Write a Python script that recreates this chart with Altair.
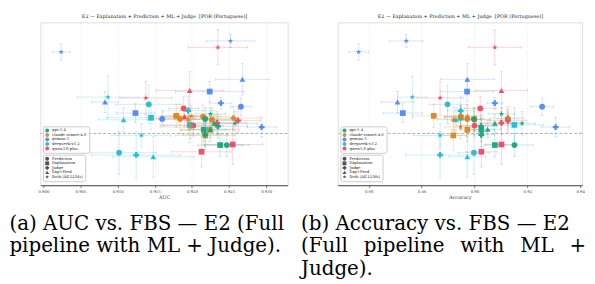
import altair as alt
import pandas as pd

SERIF = "DejaVu Serif"

model_names = ["gpt-5.4", "claude-sonnet-4.6", "gemini-3", "deepseek-v3.2", "qwen3.6-plus"]
model_colors = ["#12A37F", "#D9821A", "#4A86F2", "#1DB8CF", "#F0435F"]
type_names = ["Prediction", "Explanation", "Judge", "Exp+Pred", "Both (All LLMs)"]
STAR = ("M0,-1L0.2245,-0.309L0.951,-0.309L0.363,0.118L0.588,0.809L0,0.382"
        "L-0.588,0.809L-0.363,0.118L-0.951,-0.309L-0.2245,-0.309Z")
type_shapes = ["circle", "square", "cross", "triangle-up", STAR]

pt_model = (["gemini-3"] * 10 + ["qwen3.6-plus"] * 10 + ["deepseek-v3.2"] * 10
            + ["claude-sonnet-4.6"] * 10 + ["gpt-5.4"] * 10)
pt_type = [
    "Both (All LLMs)", "Both (All LLMs)", "Exp+Pred", "Exp+Pred", "Explanation",
    "Judge", "Prediction", "Explanation", "Prediction", "Judge",
    "Both (All LLMs)", "Exp+Pred", "Both (All LLMs)", "Prediction", "Exp+Pred",
    "Prediction", "Judge", "Judge", "Explanation", "Explanation",
    "Both (All LLMs)", "Prediction", "Judge", "Explanation", "Exp+Pred",
    "Explanation", "Both (All LLMs)", "Prediction", "Judge", "Exp+Pred",
    "Explanation", "Prediction", "Exp+Pred", "Prediction", "Prediction",
    "Judge", "Explanation", "Both (All LLMs)", "Explanation", "Both (All LLMs)",
    "Both (All LLMs)", "Both (All LLMs)", "Prediction", "Exp+Pred", "Judge",
    "Explanation", "Judge", "Explanation", "Prediction", "Exp+Pred",
]
fbs = [
    0.140, 0.159, 0.093, 0.054, 0.072, 0.052, 0.046, 0.035, 0.025, 0.011,
    0.148, 0.074, 0.061, 0.043, 0.029, 0.0135, 0.018, 0.022, -0.019, -0.0315,
    0.0624, 0.050, 0.039, 0.027, 0.0236, 0.0146, -0.0034, -0.0331, -0.037, -0.040,
    0.0303, 0.0247, 0.0247, 0.029, 0.0236, 0.0264, 0.0062, 0.011, -0.0034, 0.0298,
    0.0337, 0.0174, 0.0247, 0.0174, 0.0124, 0.0062, -0.0022, -0.020, -0.020, 0.0073,
]
fbs_err = [
    0.014, 0.011, 0.027, 0.018, 0.017, 0.010, 0.015, 0.016, 0.012, 0.017,
    0.030, 0.032, 0.028, 0.020, 0.018, 0.018, 0.020, 0.020, 0.034, 0.026,
    0.036, 0.033, 0.025, 0.020, 0.020, 0.030, 0.020, 0.037, 0.040, 0.035,
    0.020, 0.025, 0.020, 0.020, 0.020, 0.020, 0.020, 0.020, 0.025, 0.018,
    0.011, 0.020, 0.020, 0.015, 0.020, 0.020, 0.020, 0.020, 0.020, 0.015,
]
auc = [
    0.9024, 0.9252, 0.9268, 0.9083, 0.9224, 0.9239, 0.9266, 0.9124, 0.9160, 0.9294,
    0.9235, 0.9197, 0.9138, 0.9189, 0.9190, 0.9202, 0.9234, 0.9262, 0.9255, 0.9213,
    0.9087, 0.9142, 0.9195, 0.9145, 0.9108, 0.9197, 0.9132, 0.9102, 0.9125, 0.9148,
    0.9179, 0.9184, 0.9195, 0.9215, 0.9227, 0.9256, 0.9224, 0.9198, 0.9218, 0.9199,
    0.9225, 0.9258, 0.9218, 0.9230, 0.9235, 0.9216, 0.9218, 0.9238, 0.9247, 0.9225,
]
auc_err = [
    0.0012, 0.0032, 0.0036, 0.0018, 0.0046, 0.0015, 0.0014, 0.0026, 0.0017, 0.0020,
    0.0040, 0.0045, 0.0035, 0.0020, 0.0030, 0.0040, 0.0040, 0.0030, 0.0040, 0.0040,
    0.0041, 0.0045, 0.0035, 0.0060, 0.0034, 0.0040, 0.0040, 0.0050, 0.0060, 0.0055,
    0.0040, 0.0045, 0.0040, 0.0040, 0.0040, 0.0035, 0.0040, 0.0040, 0.0040, 0.0040,
    0.0020, 0.0030, 0.0040, 0.0030, 0.0040, 0.0030, 0.0030, 0.0030, 0.0030, 0.0030,
]
acc = [
    0.8562, 0.8742, 0.8973, 0.8709, 0.8972, 0.9077, 0.9256, 0.8729, 0.9126, 0.9307,
    0.9077, 0.9102, 0.8870, 0.9022, 0.8947, 0.9000, 0.9102, 0.9126, 0.9102, 0.9026,
    0.8765, 0.8898, 0.8948, 0.8948, 0.8930, 0.9151, 0.8870, 0.8998, 0.8870, 0.8973,
    0.8846, 0.8973, 0.8922, 0.8948, 0.9000, 0.9126, 0.8973, 0.8948, 0.8920, 0.8973,
    0.9102, 0.9180, 0.8998, 0.9077, 0.9025, 0.9026, 0.9026, 0.9077, 0.9151, 0.9050,
]
acc_err = [
    0.0038, 0.0063, 0.0102, 0.0062, 0.0102, 0.0030, 0.0043, 0.0074, 0.0040, 0.0053,
    0.0099, 0.0098, 0.0087, 0.0060, 0.0060, 0.0070, 0.0080, 0.0070, 0.0060, 0.0060,
    0.0055, 0.0070, 0.0050, 0.0060, 0.0070, 0.0110, 0.0100, 0.0060, 0.0130, 0.0070,
    0.0080, 0.0060, 0.0080, 0.0060, 0.0060, 0.0060, 0.0060, 0.0060, 0.0050, 0.0060,
    0.0050, 0.0050, 0.0060, 0.0060, 0.0060, 0.0050, 0.0050, 0.0040, 0.0070, 0.0050,
]

y_ticks = [-0.05, 0.0, 0.05, 0.10, 0.15]
fbs_domain = [-0.089, 0.191]
auc_ticks = [0.900, 0.905, 0.910, 0.915, 0.920, 0.925, 0.930]
auc_domain = [0.8996, 0.9329]
acc_ticks = [0.86, 0.88, 0.90, 0.92, 0.94]
acc_domain = [0.8483, 0.9407]
zero_line = [0.0]
y_title = "FBS (Fewest Bias Strength)"
panel_title = "E2 — Explanation + Prediction + ML + Judge \u00a0[POR (Portuguese)]"
caption_a = ["(a) AUC vs. FBS — E2 (Full", "pipeline with ML + Judge)."]
GAP = "\u00a0\u00a0\u2006"
caption_b = ["(b) Accuracy vs. FBS — E2",
             f"(Full{GAP}pipeline{GAP}with{GAP}ML{GAP}+",
             "Judge)."]

df = pd.DataFrame({
    "model": pt_model, "type": pt_type, "fbs": fbs, "fbs_err": fbs_err,
    "auc": auc, "auc_err": auc_err, "acc": acc, "acc_err": acc_err,
})
for c in ["fbs", "auc", "acc"]:
    df[f"{c}_lo"] = df[c] - df[f"{c}_err"]
    df[f"{c}_hi"] = df[c] + df[f"{c}_err"]

color_scale = alt.Scale(domain=model_names, range=model_colors)
shape_scale = alt.Scale(domain=type_names, range=type_shapes)


def panel(xcol, dom, ticks, fmt, xtitle, caption, cap_dx, width):
    xs = alt.Scale(domain=dom, nice=False, zero=False)
    ys = alt.Scale(domain=fbs_domain, nice=False, zero=False)
    common = dict(grid=True, gridColor="#e3e3e3", gridDash=[1.5, 1.5], gridWidth=0.6,
                  domainColor="#333", domainWidth=0.9, tickColor="#333",
                  tickSize=2.5, tickWidth=0.6, labelFontSize=3.9,
                  labelFont=SERIF, labelColor="#333",
                  titleFont=SERIF, titleFontSize=4.9, titleFontWeight="normal",
                  titleColor="#333")
    xaxis = alt.Axis(values=ticks, format=fmt, title=xtitle, labelPadding=1.5,
                     titlePadding=1.5, **common)
    yaxis = alt.Axis(values=y_ticks, format=".2f", title=y_title, labelPadding=1.2,
                     titlePadding=3, **common)
    base = alt.Chart(df)
    zero = alt.Chart(pd.DataFrame({"z": zero_line})).mark_rule(
        color="#9a9a9a", strokeDash=[3, 2], strokeWidth=0.8
    ).encode(y=alt.Y("z:Q", scale=ys, axis=None))
    xerr = base.mark_errorbar(ticks=True, size=3, thickness=0.8, opacity=0.28).encode(
        x=alt.X(f"{xcol}_lo:Q", scale=xs, axis=None, title=None),
        x2=f"{xcol}_hi:Q",
        y=alt.Y("fbs:Q", scale=ys, axis=None),
        color=alt.Color("model:N", scale=color_scale, legend=None),
    )
    yerr = base.mark_errorbar(ticks=True, size=3, thickness=0.8, opacity=0.28).encode(
        y=alt.Y("fbs_lo:Q", scale=ys, axis=None, title=None),
        y2="fbs_hi:Q",
        x=alt.X(f"{xcol}:Q", scale=xs, axis=None),
        color=alt.Color("model:N", scale=color_scale, legend=None),
    )
    pts = base.mark_point(filled=True, size=34, opacity=0.92).encode(
        x=alt.X(f"{xcol}:Q", scale=xs, axis=xaxis),
        y=alt.Y("fbs:Q", scale=ys, axis=yaxis),
        color=alt.Color("model:N", scale=color_scale, legend=alt.Legend(
            title=None, orient="none", legendX=2.7, legendY=106,
            symbolType="circle", symbolSize=16, symbolStrokeWidth=0,
            labelFontSize=3.9, labelFont=SERIF, labelColor="#222",
            labelOffset=3, rowPadding=0.6, padding=2.2,
            strokeColor="#cccccc", fillColor="white", cornerRadius=1.5)),
        shape=alt.Shape("type:N", scale=shape_scale, legend=alt.Legend(
            title=None, orient="none", legendX=2.7, legendY=134.9,
            symbolSize=16, symbolStrokeWidth=0, symbolFillColor="#444",
            labelFontSize=3.9, labelFont=SERIF, labelColor="#222",
            labelOffset=3, rowPadding=0.6, padding=2.2,
            strokeColor="#cccccc", fillColor="white", cornerRadius=1.5)),
    )
    top = base.mark_point(opacity=0).encode(
        x=alt.X(f"{xcol}:Q", scale=xs, axis=alt.Axis(
            orient="top", title=panel_title, labels=False, ticks=False,
            domain=False, grid=False, titleFont=SERIF, titleFontSize=5.0,
            titleFontWeight="normal", titleColor="#222", titlePadding=4)),
        y=alt.Y("fbs:Q", scale=ys, axis=None),
    )
    return alt.layer(zero, xerr, yerr, pts, top).resolve_axis(
        x="independent"
    ).resolve_legend(color="independent", shape="independent").properties(
        width=width, height=166,
        title=alt.TitleParams(text=caption, orient="bottom", anchor="start",
                              font=SERIF, fontSize=20.2, fontWeight="normal",
                              color="black", lineHeight=23, dx=cap_dx, offset=15),
    )


left = panel("auc", auc_domain, auc_ticks, ".3f", "AUC", caption_a, -29, 252)
right = panel("acc", acc_domain, acc_ticks, ".2f", "Accuracy", caption_b, -37, 249)

chart = alt.hconcat(left, right, spacing=51, bounds="flush").resolve_legend(
    color="independent", shape="independent"
).properties(
    padding={"left": 0, "top": 2, "right": 0, "bottom": 0}
).configure_view(stroke=None).configure(background="white")

chart.save("out.html", embed_options={"renderer": "svg", "actions": False})
